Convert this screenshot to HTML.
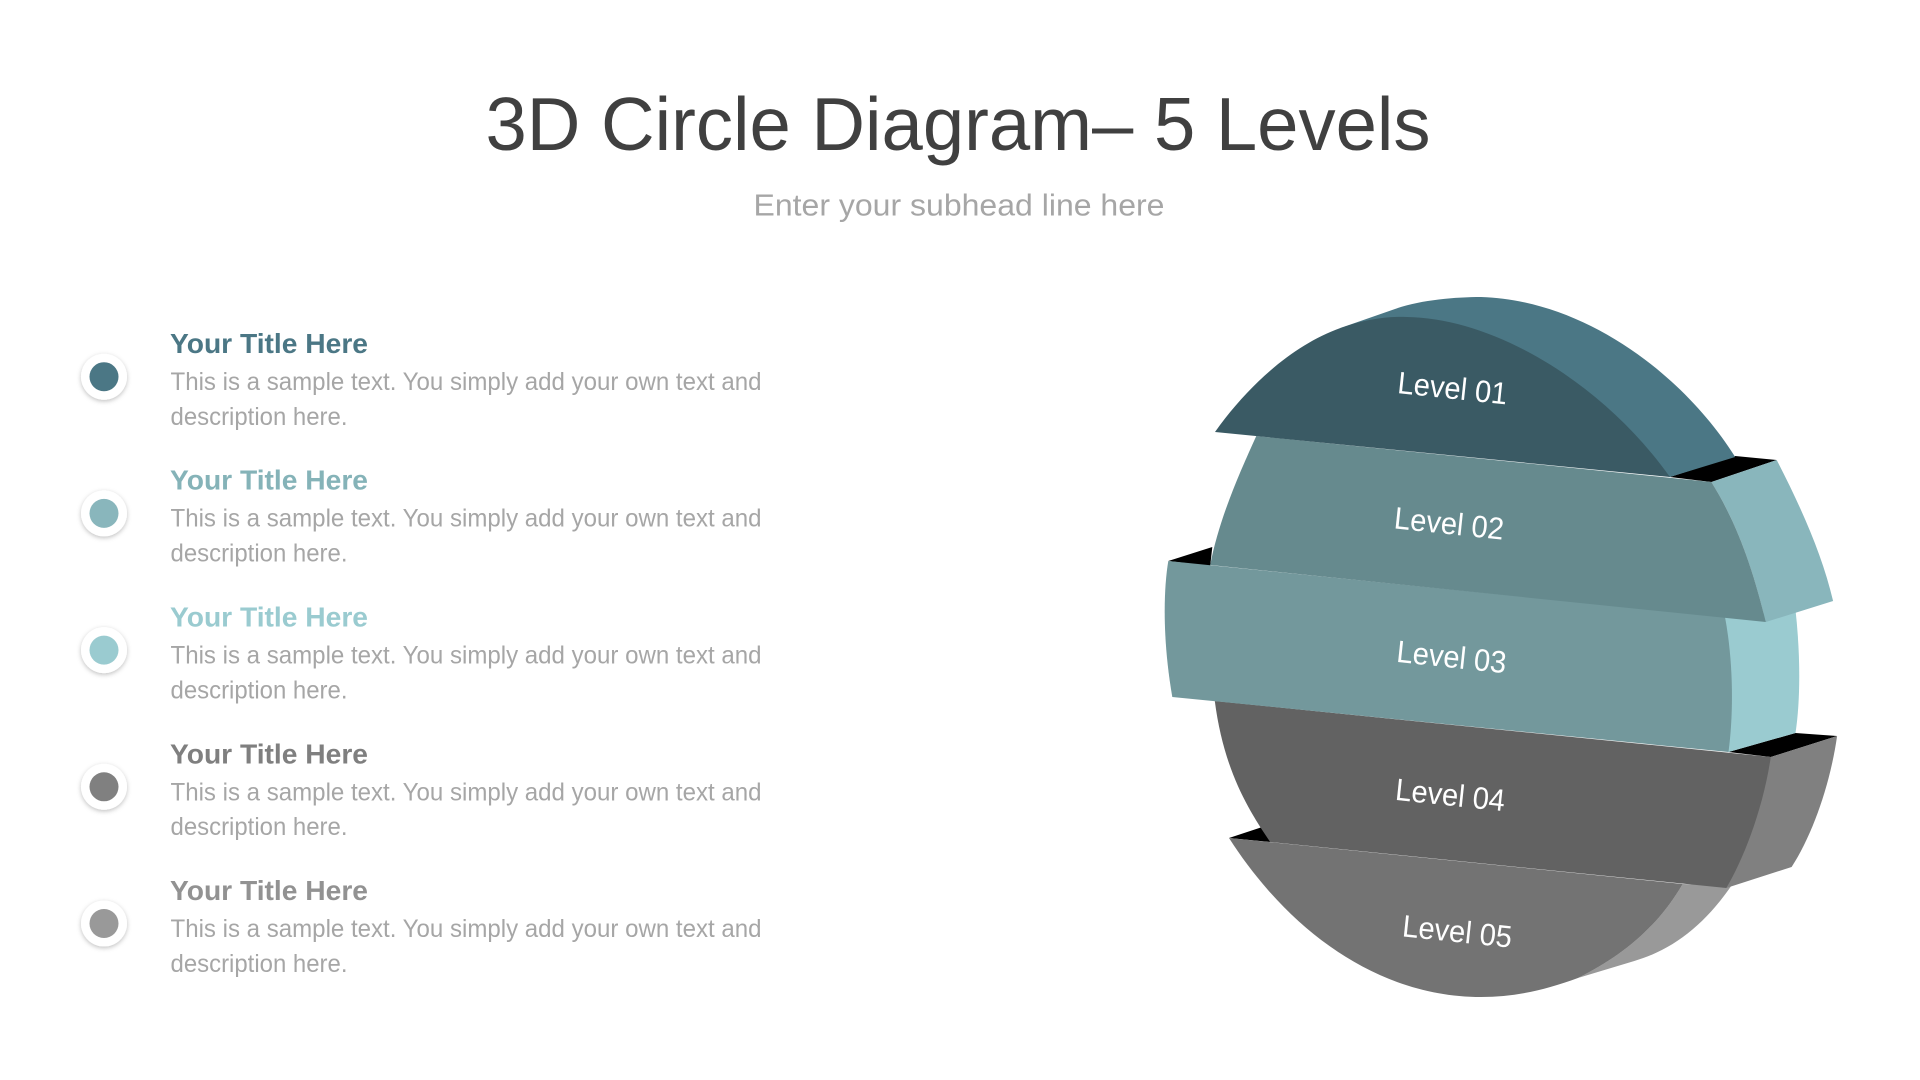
<!DOCTYPE html>
<html><head><meta charset="utf-8"><style>
html,body{margin:0;padding:0;background:#fff;width:1920px;height:1080px;overflow:hidden}
svg{display:block}
text{font-family:"Liberation Sans",sans-serif}
</style></head><body>
<svg width="1920" height="1080" viewBox="0 0 1920 1080" xmlns="http://www.w3.org/2000/svg">
<defs><filter id="s" x="-30%" y="-30%" width="160%" height="170%"><feDropShadow dx="0" dy="1.5" stdDeviation="2.5" flood-color="#000" flood-opacity=".25"/></filter></defs>
<rect width="1920" height="1080" fill="#fff"/>
<text x="485.5" y="149.8" font-size="75" fill="#404040" textLength="945" lengthAdjust="spacingAndGlyphs">3D Circle Diagram– 5 Levels</text>
<text x="753.5" y="215.5" font-size="31" fill="#a6a6a6" textLength="411" lengthAdjust="spacingAndGlyphs">Enter your subhead line here</text>

<g font-size="25" fill="#a6a6a6">
<g filter="url(#s)"><circle cx="104" cy="376.7" r="23" fill="#fff"/></g><circle cx="104" cy="376.7" r="14.5" fill="#4b7785"/>
<text x="170" y="353.2" font-size="28" font-weight="bold" fill="#4b7785" textLength="198" lengthAdjust="spacingAndGlyphs">Your Title Here</text>
<text x="170.5" y="390.2" textLength="591" lengthAdjust="spacingAndGlyphs">This is a sample text. You simply add your own text and</text>
<text x="170.5" y="425" textLength="177" lengthAdjust="spacingAndGlyphs">description here.</text>

<g filter="url(#s)"><circle cx="104" cy="513.4" r="23" fill="#fff"/></g><circle cx="104" cy="513.4" r="14.5" fill="#89b6bc"/>
<text x="170" y="489.7" font-size="28" font-weight="bold" fill="#85b3b8" textLength="198" lengthAdjust="spacingAndGlyphs">Your Title Here</text>
<text x="170.5" y="526.7" textLength="591" lengthAdjust="spacingAndGlyphs">This is a sample text. You simply add your own text and</text>
<text x="170.5" y="561.5" textLength="177" lengthAdjust="spacingAndGlyphs">description here.</text>

<g filter="url(#s)"><circle cx="104" cy="650.1" r="23" fill="#fff"/></g><circle cx="104" cy="650.1" r="14.5" fill="#9acbd0"/>
<text x="170" y="626.6" font-size="28" font-weight="bold" fill="#9acbd0" textLength="198" lengthAdjust="spacingAndGlyphs">Your Title Here</text>
<text x="170.5" y="663.6" textLength="591" lengthAdjust="spacingAndGlyphs">This is a sample text. You simply add your own text and</text>
<text x="170.5" y="698.4" textLength="177" lengthAdjust="spacingAndGlyphs">description here.</text>

<g filter="url(#s)"><circle cx="104" cy="786.8" r="23" fill="#fff"/></g><circle cx="104" cy="786.8" r="14.5" fill="#808080"/>
<text x="170" y="763.4" font-size="28" font-weight="bold" fill="#7f7f7f" textLength="198" lengthAdjust="spacingAndGlyphs">Your Title Here</text>
<text x="170.5" y="800.4" textLength="591" lengthAdjust="spacingAndGlyphs">This is a sample text. You simply add your own text and</text>
<text x="170.5" y="835.2" textLength="177" lengthAdjust="spacingAndGlyphs">description here.</text>

<g filter="url(#s)"><circle cx="104" cy="923.5" r="23" fill="#fff"/></g><circle cx="104" cy="923.5" r="14.5" fill="#999"/>
<text x="170" y="900.2" font-size="28" font-weight="bold" fill="#929292" textLength="198" lengthAdjust="spacingAndGlyphs">Your Title Here</text>
<text x="170.5" y="937.2" textLength="591" lengthAdjust="spacingAndGlyphs">This is a sample text. You simply add your own text and</text>
<text x="170.5" y="972" textLength="177" lengthAdjust="spacingAndGlyphs">description here.</text>
</g>

<!-- Level 5 -->
<path d="M1229,838 L1270.2,842 L1262.3,827Z" fill="#000"/>
<path d="M1682.7,884 L1731.2,886 C1703.5,926 1672,950 1634.3,961 L1577.9,978 C1624.4,955 1659,925 1682.7,884Z" fill="#999"/>
<path d="M1229,838 C1288,930 1377,997 1481,997 C1515.5,997 1545.2,990 1577.9,978 C1624.4,955 1659,925 1682.7,884Z" fill="#737373"/>
<!-- Level 4 -->
<path d="M1728.5,752 L1795.5,733 L1837.1,736 L1770.8,757Z" fill="#000"/>
<path d="M1770.8,757 L1837.1,736 C1830.1,785 1812.3,835 1791.6,867 L1726.3,888Z" fill="#808080"/>
<path d="M1214.8,701 C1223.7,770 1248.4,810 1270.2,842 L1726.3,888 C1743,860 1762.9,810 1770.8,757Z" fill="#626262"/>
<!-- Level 3 -->
<path d="M1168.3,561 L1212.3,547 L1210.2,566Z" fill="#000"/>
<path d="M1725,617 L1795.5,610 C1800.5,655 1800.5,700 1795.5,733 L1728.5,752Z" fill="#9acbd0"/>
<path d="M1168.3,561 C1163.4,590 1162.4,640 1172.3,697 L1728.5,752 C1734,710 1733,660 1725,617Z" fill="#73989c"/>
<!-- Level 2 -->
<path d="M1669.9,477 L1735.2,456 L1776.7,460 L1711.4,482Z" fill="#000"/>
<path d="M1711.4,482 L1776.7,460 C1802.4,510 1822.2,555 1833.1,601 L1765.8,622 C1753,570 1738.1,525 1711.4,482Z" fill="#89b6bc"/>
<path d="M1256.3,436 C1238.5,475 1218.8,520 1210.2,565 L1765.8,622 C1753,570 1738.1,525 1711.4,482Z" fill="#668a8e"/>
<!-- Level 1 -->
<path d="M1340.4,328 L1395,309 C1420,300 1455,297 1481,297 C1584.8,300 1683.7,375 1735.2,457 L1669.9,477 L1406.7,400Z" fill="#4b7785"/>
<path d="M1215,432 C1248.4,385 1293,345 1340.4,328 C1362.2,320 1387,316 1406.7,317 C1495.8,318 1604.6,385 1669.9,477Z" fill="#3a5a64"/>

<g font-size="31" fill="#fff" text-anchor="middle">
<text transform="translate(1451.5,398.7) rotate(6)" textLength="110" lengthAdjust="spacingAndGlyphs">Level 01</text>
<text transform="translate(1448,534) rotate(6)" textLength="110" lengthAdjust="spacingAndGlyphs">Level 02</text>
<text transform="translate(1450.5,667.5) rotate(6)" textLength="110" lengthAdjust="spacingAndGlyphs">Level 03</text>
<text transform="translate(1449.2,805.5) rotate(6)" textLength="110" lengthAdjust="spacingAndGlyphs">Level 04</text>
<text transform="translate(1456.2,942) rotate(6)" textLength="110" lengthAdjust="spacingAndGlyphs">Level 05</text>
</g>
</svg>
</body></html>
